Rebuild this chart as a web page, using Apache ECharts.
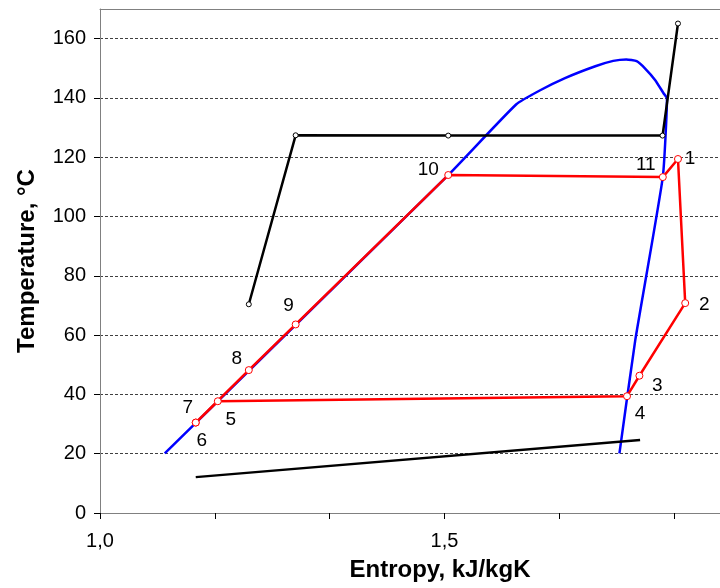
<!DOCTYPE html>
<html>
<head>
<meta charset="utf-8">
<script src="https://cdn.jsdelivr.net/npm/echarts@6/dist/echarts.min.js"></script>
<style>
  html, body { margin: 0; padding: 0; background: #fff; }
  #ts-chart { width: 720px; height: 588px; }
</style>
</head>
<body>
<div id="ts-chart"></div>
<script>
// saturation dome (blue)
var domeS = [1.094, 1.5055, 1.604, 1.639, 1.675, 1.719, 1.745, 1.764, 1.779, 1.791, 1.806, 1.818, 1.823, 1.817, 1.777, 1.754];
var domeT = [20.1, 114.0, 137.8, 142.6, 146.7, 150.7, 152.5, 153.0, 152.4, 150.0, 146.0, 141.6, 139.9, 113.4, 58.3, 20.1];

// heat source (black, top)
var heatS = [1.216, 1.284, 1.5055, 1.8166, 1.839];
var heatT = [70.4, 127.4, 127.3, 127.3, 165.1];

// cooling water (black, bottom)
var coolS = [1.139, 1.784];
var coolT = [12.1, 24.6];

// cycle state points (red), walked 7 -> 8 -> ... -> 5 -> 6
var cycleNames = ['7', '8', '9', '10', '11', '1', '2', '3', '4', '5', '6'];
var cycleS = [1.139, 1.216, 1.284, 1.5055, 1.817, 1.839, 1.8495, 1.783, 1.765, 1.171, 1.139];
var cycleT = [30.5, 48.2, 63.6, 114.0, 113.3, 119.4, 70.8, 46.3, 39.4, 37.7, 30.5];

// where each state number sits relative to its point (px)
var labelOffset = {
    '1': [12, 0], '2': [19, 2], '3': [18, 10], '4': [13, 18], '5': [13, 19],
    '6': [6, 18], '7': [-8, -15], '8': [-12, -11], '9': [-7, -19],
    '10': [-20, -5], '11': [-17, -12]
};

var FONT = '"Liberation Sans", Arial, sans-serif';

function pairs(xs, ys) {
    return xs.map(function (x, i) { return [x, ys[i]]; });
}

var cycleData = cycleNames.map(function (n, i) {
    return { name: n, value: [cycleS[i], cycleT[i]] };
});

var chart = echarts.init(document.getElementById('ts-chart'), null, { renderer: 'canvas' });

var options = {
    animation: false,
    backgroundColor: '#fff',
    grid: { left: 100, right: 0, top: 9, bottom: 75 },
    xAxis: [{
        type: 'value',
        min: 1.0,
        max: 1.9,
        interval: 1 / 6,
        name: 'Entropy, kJ/kgK',
        nameLocation: 'middle',
        nameGap: 45,
        nameTextStyle: {
            fontFamily: FONT, fontSize: 24, fontWeight: 'bold', color: '#000',
            padding: [0, 0, 0, 60]
        },
        axisLine: { show: true, lineStyle: { color: '#808080', width: 1 } },
        axisTick: { show: true, inside: false, length: 6, lineStyle: { color: '#000' } },
        axisLabel: {
            fontFamily: FONT, fontSize: 20, color: '#000', margin: 18,
            showMaxLabel: false,
            formatter: function (v) {
                if (Math.abs(v - 1.0) < 1e-6) return '1,0';
                if (Math.abs(v - 1.5) < 1e-6) return '1,5';
                return '';
            }
        },
        splitLine: { show: false }
    }, {
        // plot-area top border only
        type: 'value',
        position: 'top',
        min: 1.0,
        max: 1.9,
        axisLine: { show: true, lineStyle: { color: '#808080', width: 1 } },
        axisTick: { show: false },
        axisLabel: { show: false },
        splitLine: { show: false }
    }],
    yAxis: {
        type: 'value',
        min: 0,
        max: 170,
        interval: 20,
        name: 'Temperature, °C',
        nameLocation: 'middle',
        nameGap: 61,
        nameTextStyle: { fontFamily: FONT, fontSize: 24, fontWeight: 'bold', color: '#000' },
        axisLine: { show: true, lineStyle: { color: '#808080', width: 1 } },
        axisTick: { show: true, inside: false, length: 6, lineStyle: { color: '#000' } },
        axisLabel: {
            fontFamily: FONT, fontSize: 20, color: '#000', margin: 14,
            showMaxLabel: false
        },
        splitLine: {
            show: true,
            lineStyle: { color: '#404040', width: 1, type: [3, 2] }
        }
    },
    series: [
        {
            name: 'dome',
            type: 'line',
            data: pairs(domeS, domeT),
            showSymbol: false,
            smooth: 0.15,
            lineStyle: { color: '#0000ff', width: 2.5 },
            z: 2
        },
        {
            name: 'cooling',
            type: 'line',
            data: pairs(coolS, coolT),
            showSymbol: false,
            lineStyle: { color: '#000', width: 2.5 },
            z: 3
        },
        {
            name: 'heat source',
            type: 'line',
            data: pairs(heatS, heatT),
            symbol: 'circle',
            symbolSize: 5,
            itemStyle: { color: '#fff', borderColor: '#000', borderWidth: 1 },
            lineStyle: { color: '#000', width: 2.5 },
            z: 3
        },
        {
            name: 'cycle',
            type: 'line',
            data: cycleData,
            symbol: 'circle',
            symbolSize: 7,
            itemStyle: { color: '#fff', borderColor: '#ff0000', borderWidth: 1 },
            lineStyle: { color: '#ff0000', width: 2.5 },
            label: {
                show: true,
                position: 'inside',
                align: 'center',
                verticalAlign: 'middle',
                fontFamily: FONT,
                fontSize: 19,
                color: '#000',
                formatter: function (p) { return p.name; }
            },
            labelLayout: function (params) {
                var off = labelOffset[cycleNames[params.dataIndex]];
                return { dx: off[0], dy: off[1], hideOverlap: false };
            },
            z: 4
        }
    ]
};

chart.setOption(options);
</script>
</body>
</html>
